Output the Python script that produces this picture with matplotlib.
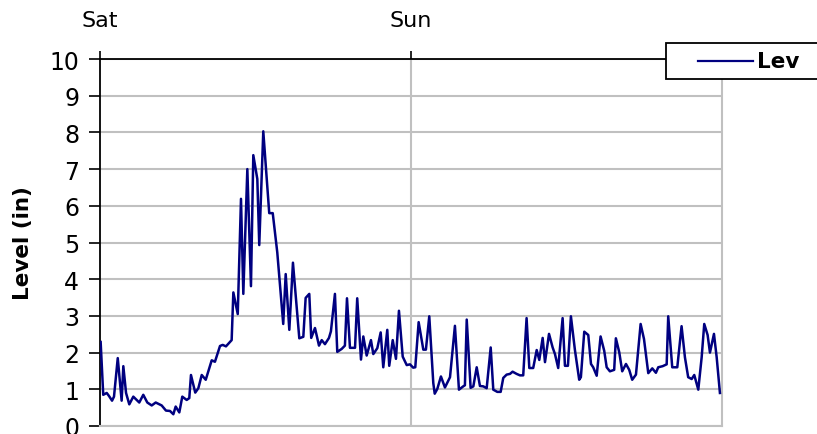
import matplotlib.pyplot as plt
from matplotlib.patches import Rectangle
from matplotlib.lines import Line2D

# hours since Saturday 00:00 and water level (in)
hours = [0.05, 0.25, 0.52, 0.69, 0.93, 1.08, 1.37, 1.67, 1.80, 2.01, 2.26, 2.57, 3.03, 3.34,
         3.65, 3.99, 4.30, 4.76, 5.09, 5.40, 5.66, 5.84, 6.12, 6.35, 6.69, 6.89, 7.02, 7.35,
         7.59, 7.85, 8.16, 8.62, 8.87, 9.26, 9.47, 9.72, 10.16, 10.29, 10.63, 10.88, 11.06,
         11.37, 11.65, 11.83, 12.14, 12.29, 12.60, 13.06, 13.33, 13.68, 14.14, 14.33, 14.61,
         14.89, 15.38, 15.69, 15.87, 16.15, 16.30, 16.59, 16.90, 17.11, 17.36, 17.67, 17.82,
         18.13, 18.31, 18.65, 18.90, 19.06, 19.29, 19.68, 19.85, 20.14, 20.32, 20.58, 20.91,
         21.09, 21.40, 21.66, 21.86, 22.17, 22.32, 22.59, 22.84, 23.07, 23.36, 23.67, 23.92,
         24.17, 24.33, 24.59, 24.95, 25.15, 25.41, 25.72, 25.83, 26.03, 26.31, 26.62, 27.01,
         27.39, 27.70, 28.03, 28.16, 28.30, 28.60, 28.81, 29.07, 29.32, 29.58, 29.84, 30.15,
         30.35, 30.66, 30.92, 31.12, 31.38, 31.64, 31.84, 32.15, 32.41, 32.66, 32.92, 33.13,
         33.43, 33.70, 33.90, 34.16, 34.34, 34.65, 34.93, 35.11, 35.36, 35.70, 35.88, 36.11,
         36.34, 36.65, 36.98, 37.11, 37.37, 37.68, 37.89, 38.06, 38.33, 38.63, 38.91, 39.10,
         39.35, 39.68, 39.81, 40.07, 40.30, 40.59, 40.84, 41.07, 41.36, 41.72, 41.98, 42.31,
         42.62, 42.90, 43.08, 43.42, 43.73, 43.85, 44.16, 44.55, 44.88, 45.14, 45.39, 45.66,
         45.86, 46.17, 46.43, 46.63, 46.89, 47.07, 47.38, 47.59, 47.84]
level = [2.29, 0.85, 0.90, 0.82, 0.69, 0.80, 1.85, 0.69, 1.63, 0.90, 0.59, 0.80, 0.64, 0.85,
         0.64, 0.56, 0.64, 0.56, 0.42, 0.41, 0.32, 0.53, 0.37, 0.80, 0.71, 0.76, 1.39, 0.91,
         1.03, 1.39, 1.26, 1.79, 1.75, 2.18, 2.21, 2.17, 2.34, 3.64, 3.05, 6.19, 3.60,
         7.00, 3.81, 7.38, 6.73, 4.93, 8.03, 5.80, 5.80, 4.73, 2.78, 4.14, 2.62,
         4.45, 2.39, 2.43, 3.49, 3.60, 2.40, 2.67, 2.19, 2.34, 2.23, 2.40, 2.58,
         3.60, 2.02, 2.10, 2.19, 3.48, 2.13, 2.13, 3.48, 1.81, 2.44, 1.92, 2.34,
         1.96, 2.12, 2.55, 1.60, 2.62, 1.64, 2.34, 1.83, 3.14, 1.89, 1.66, 1.68,
         1.59, 1.60, 2.83, 2.08, 2.08, 2.99, 1.17, 0.88, 1.01, 1.35, 1.05, 1.33,
         2.73, 0.99, 1.08, 1.11, 2.90, 1.04, 1.08, 1.60, 1.09, 1.08, 1.03, 2.14,
         0.99, 0.93, 0.93, 1.31, 1.40, 1.42, 1.48, 1.42, 1.38, 1.38, 2.94, 1.58,
         1.58, 2.07, 1.80, 2.40, 1.74, 2.51, 2.14, 1.96, 1.58, 2.94, 1.64, 1.64,
         2.99, 2.07, 1.26, 1.33, 2.57, 2.48, 1.69, 1.60, 1.37, 2.44, 2.05, 1.60,
         1.49, 1.53, 2.39, 2.01, 1.49, 1.69, 1.53, 1.26, 1.40, 2.78, 2.37, 1.44,
         1.57, 1.45, 1.60, 1.63, 1.68, 2.99, 1.60, 1.60, 2.72, 1.87, 1.33, 1.28,
         1.39, 0.99, 1.87, 2.78, 2.48, 2.00, 2.51, 1.87, 0.90]
day_ticks = [0, 24]
day_labels = ['Sat', 'Sun']
y_ticks = list(range(0, 11))
series_name = 'Lev'
line_color = '#000080'

W, H = 817, 435
fig = plt.figure(figsize=(W / 100, H / 100), dpi=100)
ax = fig.add_axes([100 / W, 8 / H, 622 / W, 367 / H])

ax.plot(hours, level, color=line_color, lw=1.8, zorder=3)

ax.set_xlim(0, 48)
ax.set_ylim(0, 10)
ax.set_yticks(y_ticks)
ax.xaxis.tick_top()
ax.set_xticks(day_ticks)
ax.set_xticklabels(day_labels)
ax.tick_params(axis='x', direction='out', length=6, width=1.2, pad=15, labelsize=16)
ax.tick_params(axis='y', direction='out', length=8, width=1.2, pad=7, labelsize=17)

ax.grid(axis='y', color='#c0c0c0', lw=1.5, zorder=0)
ax.axvline(24, color='#c0c0c0', lw=1.5, zorder=0)

for s in ['left', 'top']:
    ax.spines[s].set_color('black')
    ax.spines[s].set_linewidth(1.3)
for s in ['right', 'bottom']:
    ax.spines[s].set_color('#c0c0c0')
    ax.spines[s].set_linewidth(1.5)

ax.set_ylabel('Level (in)', fontsize=15.5, fontweight='bold')
ax.yaxis.set_label_coords(-0.108, 0.5)

# legend box, running off the right edge like the original
fig.patches.append(Rectangle((666 / W, 1 - 80 / H), 200 / W, 36 / H,
                             transform=fig.transFigure, facecolor='white',
                             edgecolor='black', lw=1.3, zorder=5))
fig.lines.append(Line2D([698 / W, 753 / W], [1 - 62 / H, 1 - 62 / H],
                        transform=fig.transFigure, color=line_color, lw=1.6, zorder=6))
fig.text(757 / W, 1 - 62 / H, series_name, fontsize=15.5, fontweight='bold',
         va='center', ha='left', zorder=6)

fig.savefig('out.png', dpi=100)
